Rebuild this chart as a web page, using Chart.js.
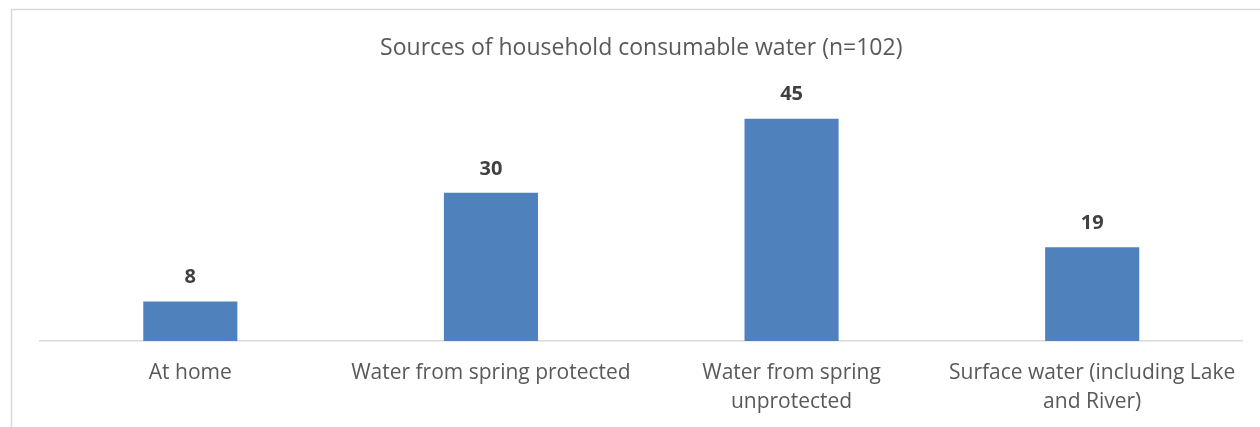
<!DOCTYPE html>
<html>
<head>
<meta charset="utf-8">
<script src="https://cdn.jsdelivr.net/npm/chart.js@4"></script>
<style>
  html, body { margin: 0; padding: 0; background: #fff; overflow: hidden; }
  #wrap { width: 1260px; height: 427px; position: relative; }
</style>
</head>
<body>
<div id="wrap"><canvas id="waterChart" width="1260" height="427"></canvas></div>
<script>
// Household water sources survey
const categories = [
    'At home',
    'Water from spring protected',
    ['Water from spring', 'unprotected'],
    ['Surface water (including Lake', 'and River)']
];
const households = [8, 30, 45, 19];
const chartTitle = 'Sources of household consumable water (n=102)';

const FONT = '"Open Sans", "Noto Sans", sans-serif';

// light frame around the chart area (only left and top edges fall inside the view)
const framePlugin = {
    id: 'frame',
    beforeDraw(chart) {
        const ctx = chart.ctx;
        ctx.save();
        ctx.strokeStyle = '#d9d9d9';
        ctx.lineWidth = 1.5;
        ctx.beginPath();
        ctx.moveTo(11.5, chart.height);
        ctx.lineTo(11.5, 9.5);
        ctx.lineTo(chart.width, 9.5);
        ctx.stroke();
        ctx.restore();
    }
};

// value above each bar
const valueLabels = {
    id: 'valueLabels',
    afterDatasetsDraw(chart) {
        const ctx = chart.ctx;
        const meta = chart.getDatasetMeta(0);
        ctx.save();
        ctx.font = 'bold 20px ' + FONT;
        ctx.fillStyle = '#404040';
        ctx.textAlign = 'center';
        ctx.textBaseline = 'middle';
        meta.data.forEach((bar, i) => {
            ctx.fillText(String(households[i]), bar.x, bar.y - 24);
        });
        ctx.restore();
    }
};

new Chart(document.getElementById('waterChart'), {
    type: 'bar',
    data: {
        labels: categories,
        datasets: [{
            data: households,
            backgroundColor: '#4f81bd',
            borderWidth: 0,
            barPercentage: 1,
            categoryPercentage: 0.313
        }]
    },
    options: {
        responsive: false,
        animation: false,
        layout: {
            padding: { left: 40, right: 17.5, top: 0, bottom: 0 }
        },
        plugins: {
            legend: { display: false },
            tooltip: { enabled: false },
            title: {
                display: true,
                text: chartTitle,
                color: '#595959',
                font: { family: FONT, size: 23, weight: 'normal', lineHeight: 1.2 },
                padding: { top: 35, bottom: 31.4 }
            }
        },
        scales: {
            x: {
                grid: { display: false, drawTicks: false },
                border: { display: true, color: '#d9d9d9', width: 1.5 },
                ticks: {
                    color: '#595959',
                    font: { family: FONT, size: 21, lineHeight: 1.36 },
                    padding: 18,
                    maxRotation: 0,
                    autoSkip: false
                },
                afterFit(scale) {
                    scale.height = 86;
                }
            },
            y: {
                display: false,
                min: 0,
                max: 50
            }
        }
    },
    plugins: [framePlugin, valueLabels]
});
</script>
</body>
</html>
